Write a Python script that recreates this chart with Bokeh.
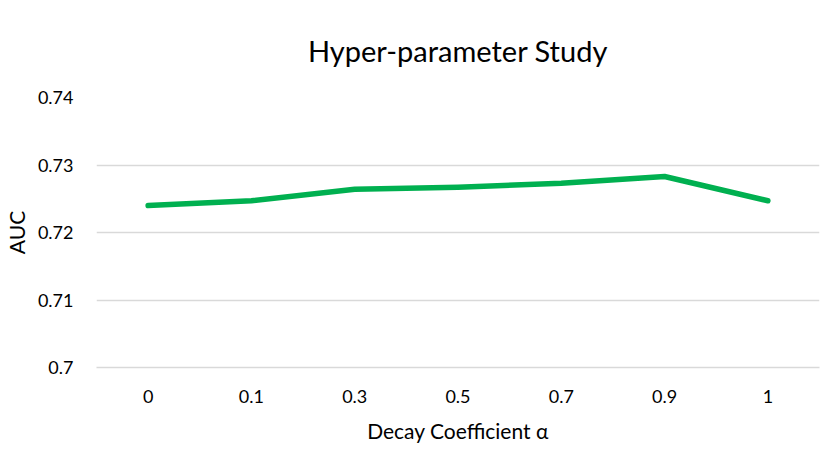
from bokeh.plotting import figure
from bokeh.models import FactorRange, Range1d, FixedTicker, Title
from bokeh.embed import file_html
from bokeh.resources import INLINE

alphas = ["0", "0.1", "0.3", "0.5", "0.7", "0.9", "1"]
auc = [0.7240, 0.7247, 0.7264, 0.7267, 0.7273, 0.7283, 0.7247]
y_ticks = [0.70, 0.71, 0.72, 0.73, 0.74]
y_tick_labels = ["0.7", "0.71", "0.72", "0.73", "0.74"]

FONT = "Lato"

p = figure(width=831, height=454, x_range=FactorRange(*alphas),
           y_range=Range1d(0.70, 0.74), output_backend="svg",
           toolbar_location=None, min_border_left=0, min_border_right=12,
           min_border_top=68, min_border_bottom=87)
p.title = Title(text="Hyper-parameter Study", align="center", vertical_align="bottom",
                text_font=FONT, text_font_size="29px", text_font_style="normal",
                text_color="#000000", standoff=60)
p.line(alphas, auc, line_color="#00b050", line_width=5.5, line_cap="round", line_join="round")

p.outline_line_color = None
p.xgrid.grid_line_color = None
p.ygrid.grid_line_color = "#d9d9d9"
p.ygrid.grid_line_width = 1.5
p.yaxis.ticker = FixedTicker(ticks=y_ticks)
p.yaxis.major_label_overrides = dict(zip(y_ticks, y_tick_labels))
p.yaxis.axis_line_color = None
p.yaxis.major_tick_line_color = None
p.yaxis.major_tick_out = 0
p.yaxis.minor_tick_line_color = None
p.yaxis.major_label_standoff = 23
p.xaxis.axis_line_color = "#d9d9d9"
p.xaxis.axis_line_width = 1.5
p.xaxis.major_tick_line_color = None
p.xaxis.major_tick_out = 0
p.xaxis.major_label_standoff = 22
p.yaxis.axis_label = "AUC"
p.xaxis.axis_label = "Decay Coefficient α"
for ax in (p.xaxis, p.yaxis):
    ax.major_label_text_font = FONT
    ax.major_label_text_font_size = "18px"
    ax.major_label_text_color = "#000000"
    ax.axis_label_text_font = FONT
    ax.axis_label_text_font_size = "21px"
    ax.axis_label_text_font_style = "normal"
    ax.axis_label_text_color = "#000000"
    ax.axis_label_text_line_height = 1.0
p.xaxis.axis_label_standoff = 12
p.yaxis.axis_label_standoff = 6

open("out.html", "w").write(file_html(p, INLINE))
